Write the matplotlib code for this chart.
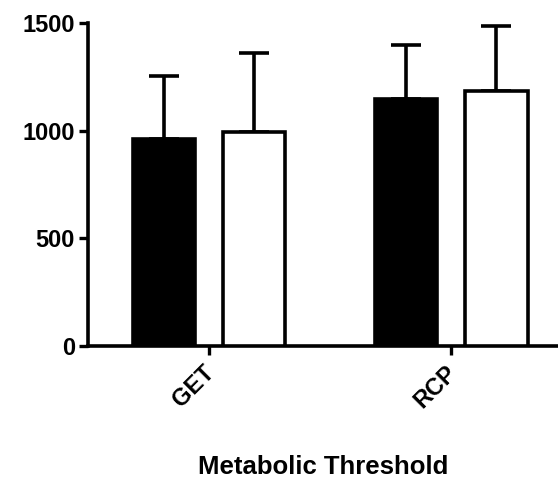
import matplotlib
matplotlib.use("Agg")
import matplotlib.pyplot as plt
from matplotlib.transforms import ScaledTranslation
import numpy as np

categories = ["GET", "RCP"]
black_means = [960, 1150]
black_sd = [295, 250]
white_means = [995, 1187]
white_sd = [365, 300]
yticks = [0, 500, 1000, 1500]

plt.rcParams['font.family'] = ['Liberation Sans', 'DejaVu Sans']
plt.rcParams['font.weight'] = 'bold'

fig = plt.figure(figsize=(5.58, 4.78), dpi=100)
ax = fig.add_axes([88/558, 1-345.7/478, 1-88/558, (345.7-23.3)/478])

x = np.arange(len(categories))
off = 0.186
w = 0.26
lw = 2.6
ax.bar(x - off, black_means, w, color='black', edgecolor='black', linewidth=lw, zorder=3)
ax.bar(x + off, white_means, w, color='white', edgecolor='black', linewidth=lw, zorder=3)
ax.errorbar(x - off, black_means, yerr=[[0]*len(x), black_sd], fmt='none', ecolor='black',
            elinewidth=lw, capsize=11, capthick=lw, zorder=2)
ax.errorbar(x + off, white_means, yerr=[[0]*len(x), white_sd], fmt='none', ecolor='black',
            elinewidth=lw, capsize=11, capthick=lw, zorder=2)

ax.set_xlim(-0.5, 1.442)
ax.set_ylim(0, 1500)
ax.set_yticks(yticks)
ax.set_yticklabels([str(v) for v in yticks], fontsize=17, fontweight='bold')
ax.set_xticks(x)
ax.set_xticklabels(categories, rotation=45, ha='right', rotation_mode='anchor',
                   fontsize=17, fontweight='bold')
ax.set_xlabel("Metabolic Threshold", fontsize=18.5, fontweight='bold', labelpad=31)

for s in ['top', 'right']:
    ax.spines[s].set_visible(False)
for s in ['left', 'bottom']:
    ax.spines[s].set_linewidth(2.6)
ax.tick_params(axis='both', width=2.4, length=6.5, pad=3)

fig.canvas.draw()
shift = ScaledTranslation(-6/100, -2/100, fig.dpi_scale_trans)
for t in ax.xaxis.get_major_ticks():
    t.label1.set_transform(t.label1.get_transform() + shift)

fig.savefig("out.png", dpi=100)
